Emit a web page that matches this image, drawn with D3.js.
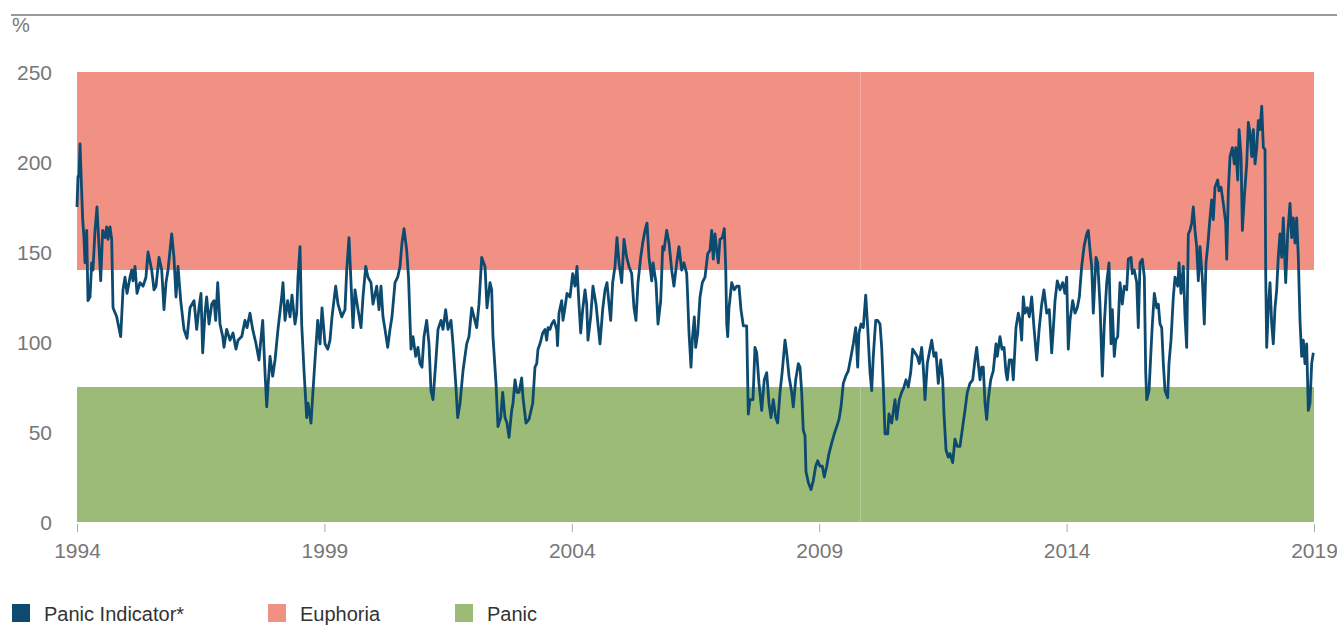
<!DOCTYPE html>
<html>
<head>
<meta charset="utf-8">
<script src="https://cdn.jsdelivr.net/npm/d3@7"></script>
<style>
  body { margin: 0; background: #fff; }
  text { font-family: "Liberation Sans", Arial, sans-serif; }
</style>
</head>
<body>
<div id="chart"></div>
<script>
// decimal years (1994 = start) and panic indicator values in %
var years = [
  1994.000,1994.020,1994.040,1994.061,1994.081,1994.115,1994.141,1994.162,1994.196,1994.222,
  1994.263,1994.297,1994.323,1994.364,1994.404,1994.445,1994.479,1994.519,1994.566,1994.600,
  1994.627,1994.667,1994.701,1994.728,1994.802,1994.883,1994.930,1994.970,1995.011,1995.071,
  1995.106,1995.132,1995.172,1995.213,1995.273,1995.334,1995.394,1995.435,1995.510,1995.556,
  1995.597,1995.657,1995.712,1995.758,1995.799,1995.839,1995.914,1995.960,1996.001,1996.041,
  1996.096,1996.162,1996.223,1996.284,1996.365,1996.419,1996.466,1996.506,1996.540,1996.587,
  1996.621,1996.668,1996.722,1996.769,1996.803,1996.844,1996.890,1996.945,1996.971,1997.025,
  1997.092,1997.153,1997.213,1997.254,1997.329,1997.395,1997.436,1997.496,1997.551,1997.618,
  1997.678,1997.753,1997.800,1997.834,1997.860,1997.901,1997.955,1998.002,1998.062,1998.137,
  1998.163,1998.204,1998.258,1998.305,1998.345,1998.406,1998.440,1998.466,1998.507,1998.541,
  1998.588,1998.642,1998.669,1998.729,1998.770,1998.810,1998.865,1998.911,1998.952,1999.012,
  1999.067,1999.113,1999.154,1999.228,1999.275,1999.350,1999.416,1999.451,1999.497,1999.538,
  1999.578,1999.618,1999.679,1999.740,1999.780,1999.835,1999.881,1999.942,1999.982,2000.057,
  2000.103,2000.144,2000.184,2000.225,2000.279,2000.326,2000.366,2000.427,2000.481,2000.528,
  2000.568,2000.609,2000.663,2000.700,2000.750,2000.791,2000.845,2000.892,2000.932,2000.972,
  2001.013,2001.067,2001.114,2001.154,2001.195,2001.249,2001.296,2001.356,2001.397,2001.451,
  2001.498,2001.559,2001.599,2001.654,2001.694,2001.741,2001.801,2001.876,2001.922,2001.977,
  2002.023,2002.078,2002.124,2002.179,2002.246,2002.286,2002.347,2002.381,2002.407,2002.468,
  2002.508,2002.563,2002.603,2002.650,2002.690,2002.731,2002.785,2002.812,2002.852,2002.892,
  2002.933,2002.987,2003.014,2003.074,2003.135,2003.210,2003.256,2003.291,2003.317,2003.357,
  2003.412,2003.458,2003.493,2003.519,2003.559,2003.594,2003.640,2003.695,2003.711,2003.741,
  2003.796,2003.822,2003.862,2003.903,2003.964,2004.018,2004.065,2004.105,2004.145,2004.180,
  2004.220,2004.267,2004.301,2004.327,2004.382,2004.428,2004.489,2004.529,2004.570,2004.624,
  2004.671,2004.711,2004.752,2004.786,2004.826,2004.873,2004.913,2004.954,2005.008,2005.055,
  2005.109,2005.156,2005.210,2005.257,2005.297,2005.338,2005.392,2005.433,2005.479,2005.520,
  2005.560,2005.615,2005.641,2005.702,2005.742,2005.797,2005.837,2005.863,2005.918,2005.965,
  2006.019,2006.065,2006.120,2006.166,2006.221,2006.267,2006.322,2006.342,2006.369,2006.409,
  2006.435,2006.476,2006.504,2006.545,2006.591,2006.638,2006.692,2006.747,2006.793,2006.828,
  2006.860,2006.894,2006.929,2006.961,2006.995,2007.042,2007.082,2007.110,2007.131,2007.151,
  2007.177,2007.232,2007.284,2007.333,2007.379,2007.419,2007.466,2007.534,2007.567,2007.601,
  2007.662,2007.702,2007.737,2007.783,2007.838,2007.890,2007.939,2007.985,2008.026,2008.072,
  2008.121,2008.161,2008.208,2008.254,2008.309,2008.343,2008.390,2008.444,2008.476,2008.525,
  2008.578,2008.612,2008.646,2008.678,2008.713,2008.733,2008.780,2008.834,2008.881,2008.929,
  2008.970,2009.016,2009.063,2009.103,2009.152,2009.198,2009.253,2009.305,2009.354,2009.400,
  2009.441,2009.487,2009.536,2009.588,2009.643,2009.689,2009.738,2009.778,2009.804,2009.845,
  2009.891,2009.940,2009.980,2010.027,2010.061,2010.093,2010.142,2010.182,2010.229,2010.263,
  2010.296,2010.330,2010.384,2010.410,2010.465,2010.532,2010.566,2010.619,2010.667,2010.714,
  2010.754,2010.800,2010.849,2010.889,2010.936,2010.982,2011.023,2011.071,2011.104,2011.138,
  2011.185,2011.225,2011.274,2011.320,2011.361,2011.407,2011.456,2011.496,2011.522,2011.563,
  2011.609,2011.643,2011.698,2011.744,2011.791,2011.845,2011.900,2011.946,2011.993,2012.047,
  2012.102,2012.148,2012.183,2012.215,2012.250,2012.284,2012.316,2012.351,2012.385,2012.417,
  2012.466,2012.518,2012.573,2012.599,2012.654,2012.694,2012.735,2012.775,2012.801,2012.842,
  2012.890,2012.923,2012.977,2013.024,2013.058,2013.092,2013.125,2013.159,2013.206,2013.246,
  2013.295,2013.341,2013.396,2013.448,2013.497,2013.543,2013.598,2013.650,2013.699,2013.731,
  2013.766,2013.812,2013.867,2013.921,2013.967,2014.002,2014.034,2014.069,2014.123,2014.170,
  2014.216,2014.257,2014.305,2014.352,2014.406,2014.439,2014.473,2014.507,2014.540,2014.594,
  2014.629,2014.675,2014.722,2014.762,2014.811,2014.857,2014.898,2014.924,2014.964,2014.993,
  2015.033,2015.079,2015.126,2015.166,2015.215,2015.247,2015.302,2015.328,2015.368,2015.417,
  2015.449,2015.484,2015.530,2015.571,2015.599,2015.620,2015.666,2015.707,2015.733,2015.773,
  2015.822,2015.854,2015.888,2015.922,2015.955,2015.989,2016.043,2016.069,2016.110,2016.157,
  2016.191,2016.245,2016.272,2016.312,2016.359,2016.393,2016.427,2016.460,2016.494,2016.528,
  2016.561,2016.595,2016.629,2016.662,2016.696,2016.742,2016.783,2016.817,2016.851,2016.898,
  2016.932,2016.965,2016.999,2017.054,2017.080,2017.121,2017.167,2017.216,2017.236,2017.269,
  2017.303,2017.350,2017.390,2017.419,2017.459,2017.486,2017.526,2017.552,2017.593,2017.640,
  2017.673,2017.707,2017.742,2017.774,2017.808,2017.843,2017.875,2017.909,2017.944,2017.976,
  2018.010,2018.024,2018.044,2018.077,2018.111,2018.145,2018.177,2018.212,2018.246,2018.278,
  2018.312,2018.347,2018.379,2018.428,2018.468,2018.515,2018.549,2018.581,2018.616,2018.650,
  2018.683,2018.717,2018.751,2018.784,2018.818,2018.852,2018.885,2018.919,2018.953,2018.986
];
var panicValues = [
  175,192,192,210,194,168,158,144,162,123, 125,144,140,162,175,153,134,162,158,164,
  157,164,157,119,114,103,129,136,127,136, 140,134,142,127,133,131,136,150,140,129,
  131,147,140,118,133,140,160,147,125,142, 123,107,102,119,123,107,119,127,94,116,
  125,110,121,123,112,133,110,103,97,107, 101,105,96,101,103,112,108,116,107,99,
  90,112,83,64,75,92,81,90,107,125, 133,112,123,114,126,110,116,136,153,110,
  84,58,66,55,73,90,112,99,119,99, 96,101,114,131,121,114,118,140,158,133,
  108,129,118,108,125,142,136,133,121,131, 118,131,114,107,97,107,114,133,136,142,
  155,163,151,136,96,103,92,97,88,86, 103,112,99,73,68,88,107,112,107,118,
  107,112,99,77,58,66,84,99,103,119, 114,108,121,147,142,119,133,129,103,77,
  53,58,72,58,55,47,62,66,79,72, 72,80,69,55,57,66,86,88,96,99,
  105,107,101,108,107,110,112,107,98,116, 123,112,119,127,125,138,131,142,121,105,
  118,129,121,101,114,131,121,110,99,118, 129,133,121,112,133,142,158,144,133,157,
  147,142,138,119,112,133,147,155,162,166, 147,134,144,133,110,123,153,151,162,155,
  140,131,144,153,140,144,138,125,105,86, 101,114,97,105,125,133,136,149,151,162,
  146,160,151,144,157,158,163,142,110,103, 119,133,129,131,131,118,109,109,60,68,
  68,97,94,77,62,79,83,66,58,68, 58,55,72,84,101,94,81,72,64,79,
  88,86,72,51,48,28,22,18,23,31, 34,31,31,25,31,38,44,49,53,57,
  64,77,81,84,92,99,108,86,105,110, 108,126,108,83,73,92,112,112,110,97,
  75,49,49,60,55,68,57,68,72,75, 79,75,83,96,94,92,88,97,86,68,
  88,94,101,92,94,77,90,79,60,40, 36,38,33,46,42,42,53,62,72,77,
  79,90,97,88,79,86,86,66,57,68, 79,84,99,92,103,96,97,83,79,90,
  90,79,108,116,112,101,125,116,119,114, 125,108,90,108,121,129,116,118,94,107,
  123,134,129,133,127,136,96,112,123,116, 119,125,142,153,160,162,151,142,116,147,
  144,121,81,110,133,144,99,118,92,101, 103,133,121,131,129,146,147,138,140,133,
  108,144,146,136,83,68,73,96,110,127, 119,121,110,108,88,73,69,88,101,125,
  136,131,144,127,142,114,97,160,162,166, 175,162,153,134,153,136,110,144,153,169,
  179,168,186,190,184,186,177,166,146,184, 203,208,199,208,190,218,203,162,181,199,
  222,216,203,218,199,208,223,218,231,208, 207,138,97,119,133,110,99,119,129,147,
  160,147,169,133,160,177,158,169,155,169, 147,112,92,101,88,99,62,66,88,94
];

var yearTicks = [1994, 1999, 2004, 2009, 2014, 2019];
var valueTicks = [0, 50, 100, 150, 200, 250];
var zones = [
  {name: "Euphoria", from: 140, to: 250, color: "#f19184"},
  {name: "Panic", from: 0, to: 75, color: "#9bbb77"}
];
var bandBreak = 2009.83;
var legendItems = [
  {label: "Panic Indicator*", color: "#0d4a6f"},
  {label: "Euphoria", color: "#f19184"},
  {label: "Panic", color: "#9bbb77"}
];

var width = 1337, height = 626;
var margin = {top: 72, right: 23, bottom: 104, left: 77};

var svg = d3.select("#chart")
  .append("svg")
  .attr("width", width)
  .attr("height", height);

var x = d3.scaleLinear()
  .domain([1994, 2019])
  .range([margin.left, width - margin.right]);

var y = d3.scaleLinear()
  .domain([0, 250])
  .range([height - margin.bottom, margin.top]);

var data = years.map(function(d, i) { return {year: d, value: panicValues[i]}; });

// top rule and unit label
svg.append("line")
  .attr("x1", 11).attr("x2", width)
  .attr("y1", 15).attr("y2", 15)
  .style("stroke", "#9a9a9a")
  .style("stroke-width", 2);

svg.append("text")
  .attr("x", 12).attr("y", 32)
  .style("font-size", "20px")
  .style("fill", "#777")
  .text("%");

// zone bands
zones.forEach(function(z) {
  [[1994, bandBreak], [bandBreak, 2019]].forEach(function(p) {
    svg.append("rect")
      .attr("x", x(p[0]))
      .attr("width", x(p[1]) - x(p[0]))
      .attr("y", y(z.to))
      .attr("height", y(z.from) - y(z.to))
      .style("fill", z.color);
  });
});

svg.append("line")
  .attr("x1", x(bandBreak)).attr("x2", x(bandBreak))
  .attr("y1", y(250)).attr("y2", y(0))
  .style("stroke", "#fff")
  .style("stroke-opacity", 0.12)
  .style("stroke-width", 1);

// axes
var yAxis = d3.axisLeft(y)
  .tickValues(valueTicks)
  .tickSize(0)
  .tickPadding(0);

var gy = svg.append("g")
  .attr("transform", "translate(52,0)")
  .call(yAxis);
gy.select(".domain").remove();
gy.selectAll("text")
  .style("font-size", "21px")
  .style("fill", "#777")
  .attr("dy", "0.36em");

var xAxis = d3.axisBottom(x)
  .tickValues(yearTicks)
  .tickFormat(d3.format("d"))
  .tickSize(8)
  .tickPadding(11);

var gx = svg.append("g")
  .attr("transform", "translate(0," + (y(0) + 2) + ")")
  .call(xAxis);
gx.select(".domain").remove();
gx.selectAll("line").style("stroke", "#aaa");
gx.selectAll("text")
  .style("font-size", "21px")
  .style("fill", "#777");

// indicator line
var line = d3.line()
  .x(function(d) { return x(d.year); })
  .y(function(d) { return y(d.value); });

svg.append("path")
  .datum(data)
  .attr("d", line)
  .style("fill", "none")
  .style("stroke", "#0d4a6f")
  .style("stroke-width", 2.8)
  .style("stroke-linejoin", "round");

// legend
var legendX = [12, 268, 455];
var legend = svg.selectAll(".legend")
  .data(legendItems)
  .enter()
  .append("g")
  .attr("class", "legend")
  .attr("transform", function(d, i) { return "translate(" + legendX[i] + ",604)"; });

legend.append("rect")
  .attr("width", 18)
  .attr("height", 18)
  .style("fill", function(d) { return d.color; });

legend.append("text")
  .attr("x", 32)
  .attr("y", 17)
  .style("font-size", "20px")
  .style("fill", "#333")
  .text(function(d) { return d.label; });
</script>
</body>
</html>
